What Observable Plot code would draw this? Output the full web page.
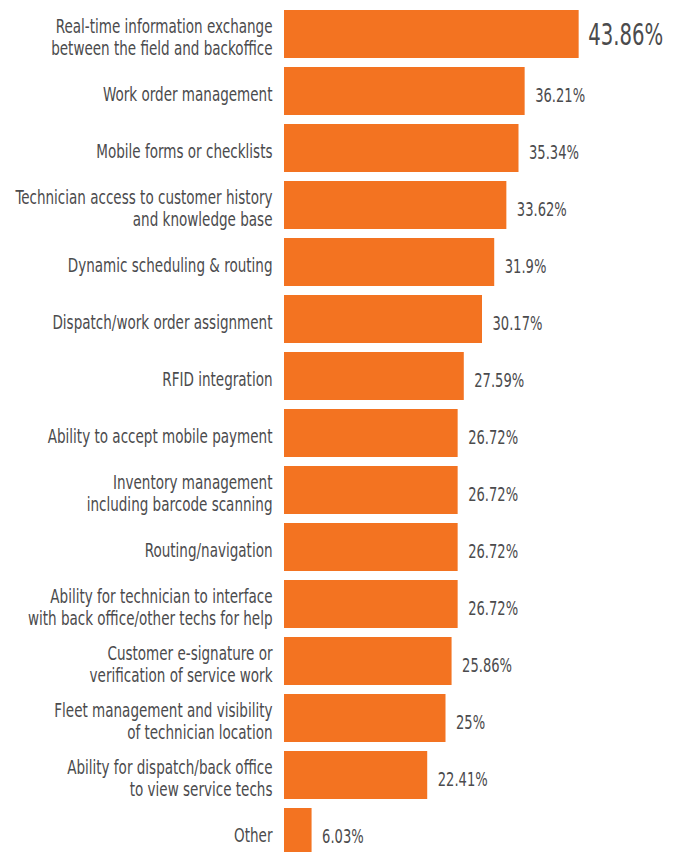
<!DOCTYPE html>
<html>
<head>
<meta charset="utf-8">
<script src="https://cdn.jsdelivr.net/npm/d3@7"></script>
<script src="https://cdn.jsdelivr.net/npm/@observablehq/plot@0.6"></script>
<style>
  html, body { margin: 0; padding: 0; background: #fff; overflow: hidden; }
  #chart svg { display: block; }
  #chart text { font-stretch: condensed; }
</style>
</head>
<body>
<div id="chart"></div>
<script>
const categories = [
  "Real-time information exchange\nbetween the field and backoffice",
  "Work order management",
  "Mobile forms or checklists",
  "Technician access to customer history\nand knowledge base",
  "Dynamic scheduling & routing",
  "Dispatch/work order assignment",
  "RFID integration",
  "Ability to accept mobile payment",
  "Inventory management\nincluding barcode scanning",
  "Routing/navigation",
  "Ability for technician to interface\nwith back office/other techs for help",
  "Customer e-signature or\nverification of service work",
  "Fleet management and visibility\nof technician location",
  "Ability for dispatch/back office\nto view service techs",
  "Other"
];
const values = [43.86, 36.21, 35.34, 33.62, 31.9, 30.17, 27.59, 26.72, 26.72, 26.72, 26.72, 25.86, 25, 22.41, 6.03];

const data = categories.map((c, i) => ({label: c, value: values[i], rank: i}));

const font = "'DejaVu Sans Condensed', 'DejaVu Sans', sans-serif";
const textColor = "#4b4b4d";
const orange = "#f37321";

const chart = Plot.plot({
  width: 678,
  height: 857,
  marginLeft: 269,
  marginRight: 56,
  marginTop: 9,
  marginBottom: 0,
  style: {fontFamily: font, background: "#fff"},
  x: {domain: [0, 50], axis: null},
  y: {domain: categories, axis: null, paddingInner: 0.15, paddingOuter: 0},
  marks: [
    Plot.barX(data, {x: "value", y: "label", fill: orange, insetLeft: 15}),
    Plot.text(data, {
      y: "label", text: "label", frameAnchor: "left", textAnchor: "end",
      dx: 3, dy: 2, lineHeight: 1.16, fontSize: 19, fill: textColor
    }),
    Plot.text(data, {
      filter: d => d.rank === 0,
      x: "value", y: "label", text: d => d.value + "%", textAnchor: "start",
      dx: 9, dy: 1, fontSize: 30, fill: textColor
    }),
    Plot.text(data, {
      filter: d => d.rank !== 0,
      x: "value", y: "label", text: d => d.value + "%", textAnchor: "start",
      dx: 10, dy: 4, fontSize: 19, fill: textColor
    })
  ]
});
document.getElementById("chart").appendChild(chart);

// Condense the lettering to match the narrow typeface of the original
const texts = Array.from(chart.querySelectorAll("text"));
function factor(pred, target, fallback) {
  const t = texts.find(pred);
  if (!t) return fallback;
  const first = t.querySelector("tspan") || t;
  const w = first.getComputedTextLength();
  return w > 0 ? Math.min(1, target / w) : fallback;
}
const kLabel = factor(t => t.textContent.startsWith("Real-time"), 217, 0.8);
const kValue = factor(t => t.textContent === "36.21%", 50, 0.8);
const kBig = factor(t => t.textContent === "43.86%", 75, 0.8);
texts.forEach(t => {
  const s = t.textContent;
  const k = s === "43.86%" ? kBig : /%$/.test(s) ? kValue : kLabel;
  const tr = t.getAttribute("transform") || "";
  t.setAttribute("transform", (tr + ` scale(${k},1)`).trim());
});
</script>
</body>
</html>
